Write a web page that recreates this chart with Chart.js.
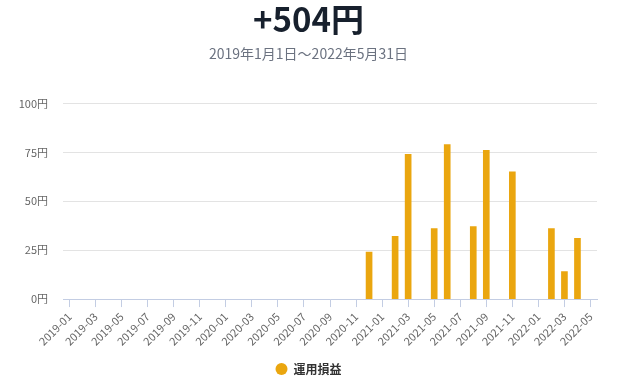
<!DOCTYPE html>
<html>
<head>
<meta charset="utf-8">
<script src="https://cdn.jsdelivr.net/npm/chart.js@4"></script>
<style>
  html, body { margin: 0; padding: 0; background: #fff; }
  #wrap { width: 617px; height: 387px; }
</style>
</head>
<body>
<div id="wrap"><canvas id="profitChart" width="617" height="387"></canvas></div>
<script>
// months on the x axis (2019-01 .. 2022-05)
const months = [
    "2019-01", "2019-02", "2019-03", "2019-04", "2019-05", "2019-06", "2019-07", "2019-08", "2019-09", "2019-10", "2019-11", "2019-12",
    "2020-01", "2020-02", "2020-03", "2020-04", "2020-05", "2020-06", "2020-07", "2020-08", "2020-09", "2020-10", "2020-11", "2020-12",
    "2021-01", "2021-02", "2021-03", "2021-04", "2021-05", "2021-06", "2021-07", "2021-08", "2021-09", "2021-10", "2021-11", "2021-12",
    "2022-01", "2022-02", "2022-03", "2022-04", "2022-05"
];

// monthly profit in yen, null = no bar that month
const profit = [
    null, null, null, null, null, null, null, null, null, null, null, null,
    null, null, null, null, null, null, null, null, null, null, null, 24,
    null, 32, 74, null, 36, 79, null, 37, 76, null, 65, null,
    null, 36, 14, 31, null
];

const yTicks = [0, 25, 50, 75, 100];
const totalText = "+504円";
const periodText = "2019年1月1日〜2022年5月31日";
const seriesName = "運用損益";

const font = "'Noto Sans CJK JP', 'Noto Sans', sans-serif";

function renderProfitChart() {
    const ctx = document.getElementById("profitChart").getContext("2d");
    window.profitChart = new Chart(ctx, {
        type: 'bar',
        data: {
            labels: months,
            datasets: [{
                label: seriesName,
                data: profit,
                backgroundColor: '#eaa60f',
                borderWidth: 0,
                barThickness: 6
            }]
        },
        options: {
            responsive: false,
            animation: false,
            layout: { padding: { left: 12, right: 12, top: 0, bottom: 2 } },
            plugins: {
                title: {
                    display: true,
                    text: totalText,
                    color: '#17202d',
                    font: { family: font, size: 33, weight: 'bold' },
                    padding: { top: 0, bottom: 6 }
                },
                subtitle: {
                    display: true,
                    text: periodText,
                    color: '#6b7280',
                    font: { family: font, size: 14 },
                    padding: { top: 0, bottom: 41 }
                },
                legend: {
                    position: 'bottom',
                    labels: {
                        usePointStyle: true,
                        pointStyle: 'circle',
                        boxWidth: 12,
                        boxHeight: 8.5,
                        color: '#333',
                        font: { family: font, size: 12, weight: 'bold' },
                        padding: 12
                    }
                },
                tooltip: { enabled: false }
            },
            scales: {
                x: {
                    offset: true,
                    grid: {
                        offset: false,
                        drawOnChartArea: false,
                        color: '#c3cde3',
                        tickLength: 8
                    },
                    border: { color: '#c3cde3' },
                    ticks: {
                        autoSkip: false,
                        minRotation: 45,
                        maxRotation: 45,
                        color: '#666',
                        font: { family: font, size: 11 },
                        callback: function (val, i) {
                            return i % 2 === 0 ? months[i] : null;
                        }
                    }
                },
                y: {
                    min: 0,
                    max: 100,
                    afterBuildTicks: (axis) => {
                        axis.ticks = yTicks.map(v => ({ value: v }));
                    },
                    afterFit: (axis) => { axis.width = 51; },
                    grid: { color: '#e3e3e3', drawTicks: false },
                    border: { display: false },
                    ticks: {
                        color: '#666',
                        padding: 15,
                        font: { family: font, size: 11 },
                        callback: val => `${val}円`
                    }
                },
                // empty axis on the right, only to leave a little room there
                yRight: {
                    position: 'right',
                    display: true,
                    grid: { display: false },
                    border: { display: false },
                    ticks: { display: false },
                    afterFit: (axis) => { axis.width = 8; }
                }
            }
        }
    });
}

window.onload = function () {
    renderProfitChart();
};
</script>
</body>
</html>
